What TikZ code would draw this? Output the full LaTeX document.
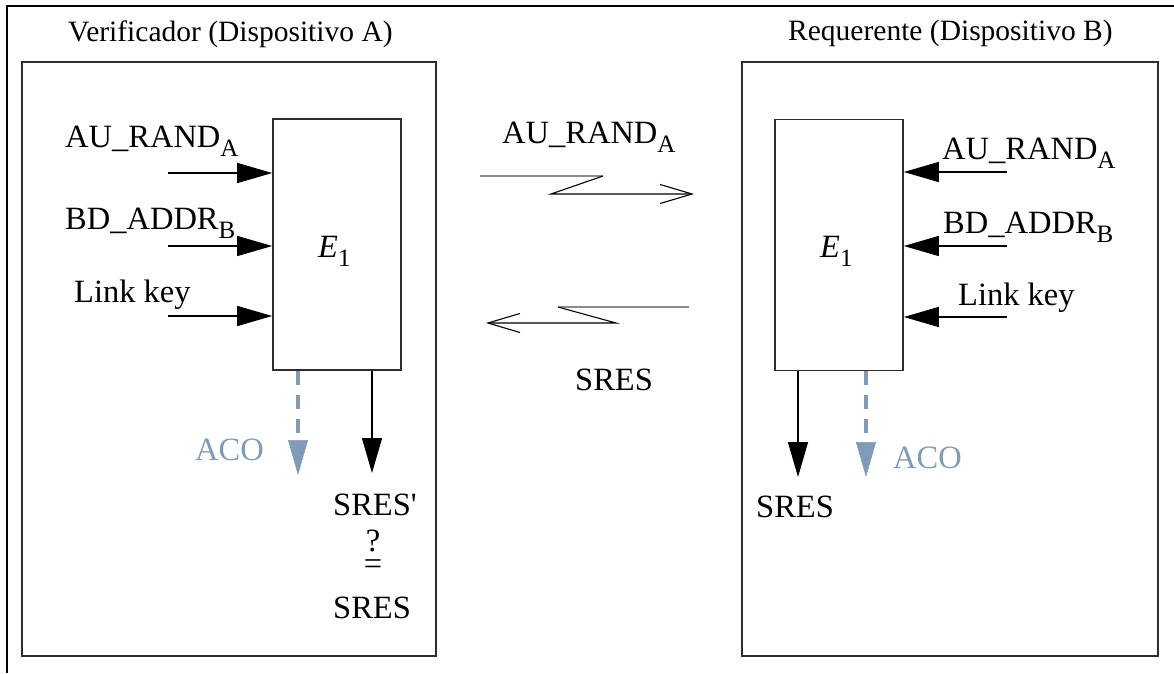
\documentclass[tikz,border=0pt]{standalone}
\usepackage{fontspec}
\setmainfont{Liberation Serif}
\usetikzlibrary{arrows.meta}
\definecolor{acoblue}{RGB}{128,155,185}
\definecolor{boxline}{RGB}{45,45,45}
\newcommand{\lblfont}{\fontsize{32.5}{39}\selectfont}
\newcommand{\ttlfont}{\fontsize{29.5}{35}\selectfont}
\newcommand{\dn}[1]{\raisebox{-0.3em}{\fontsize{25}{30}\selectfont #1}}
% question mark set above an equals sign
\newcommand{\qeqsign}{{\setbox0\hbox{=}\rlap{\hbox to \wd0{\hss\raisebox{0.68em}{?}\hss}}\box0}}
\begin{document}
\begin{tikzpicture}[x=1pt,y=-1pt,
  frame/.style={draw=boxline, line width=1.8pt},
  ebox/.style={draw=boxline, line width=1.6pt, minimum width=128pt, minimum height=251pt, inner sep=0},
  txt/.style={anchor=base west, inner sep=0, font=\lblfont},
  ttl/.style={anchor=base west, inner sep=0, font=\ttlfont},
  inarrow/.style={line width=1.3pt, -{Triangle[length=35pt,width=20pt]}},
  outarrow/.style={line width=1.3pt, -{Triangle[length=35pt,width=20pt]}},
  acoarrow/.style={draw=acoblue, line width=3.2pt, dash pattern=on 14pt off 10pt,
    -{Triangle[length=35pt,width=20pt,fill=acoblue,line width=0.5pt,sep=0pt]}},
  wiregray/.style={draw=black!45, line width=1.4pt},
  barb/.style={line width=1.1pt, -{Straight Barb[length=32pt,width=19pt,line width=1.1pt]}}
]
\useasboundingbox (0,0) rectangle (1174,673);

% page frame (left and top edges)
\draw[line width=2pt] (7,673) -- (7,6) -- (1174,6);

% device frames
\draw[frame] (22,62) rectangle (436,656);
\draw[frame] (742,62) rectangle (1158,656);

% titles
\node[ttl] (tA) at (68,41) {Verificador (Dispositivo A)};
\node[ttl] (tB) at (788,40) {Requerente (Dispositivo B)};

% E1 blocks
\node[ebox] (eA) at (337,244.5) {};
\node[ebox] (eB) at (839,245) {};
\node[txt] (eAl) at (318,257) {{\itshape E}\dn{1}};
\node[txt] (eBl) at (820,257) {{\itshape E}\dn{1}};

% inputs of device A
\node[txt] (la1) at (65,147) {AU\_RAND\dn{A}};
\node[txt] (la2) at (65,229) {BD\_ADDR\dn{B}};
\node[txt] (la3) at (74,302) {Link key};
\coordinate (ia1) at (168,173);
\coordinate (ia2) at (168,246);
\coordinate (ia3) at (168,316);
\draw[inarrow] (ia1) -- (ia1 -| eA.west);
\draw[inarrow] (ia2) -- (ia2 -| eA.west);
\draw[inarrow] (ia3) -- (ia3 -| eA.west);

% inputs of device B
\node[txt] (lb1) at (942,159) {AU\_RAND\dn{A}};
\node[txt] (lb2) at (943,233) {BD\_ADDR\dn{B}};
\node[txt] (lb3) at (958,305) {Link key};
\coordinate (ib1) at (1007,172);
\coordinate (ib2) at (1007,246);
\coordinate (ib3) at (1007,317);
\draw[inarrow] (ib1) -- (ib1 -| eB.east);
\draw[inarrow] (ib2) -- (ib2 -| eB.east);
\draw[inarrow] (ib3) -- (ib3 -| eB.east);

% outputs of device A
\coordinate (oa1) at (298,475);
\coordinate (oa2) at (372,473);
\draw[acoarrow] (oa1 |- eA.south) -- (oa1);
\draw[outarrow] (oa2 |- eA.south) -- (oa2);
\node[txt, text=acoblue] (acoA) at (195,460) {ACO};
\node[txt] (sresA1) at (333,515) {SRES\textquotesingle};
\node[anchor=base, inner sep=0, font=\lblfont] (qeq) at (373,574) {\qeqsign};
\node[txt] (sresA2) at (333,618) {SRES};

% outputs of device B
\coordinate (ob1) at (798,477);
\coordinate (ob2) at (866,477);
\draw[outarrow] (ob1 |- eB.south) -- (ob1);
\draw[acoarrow] (ob2 |- eB.south) -- (ob2);
\node[txt, text=acoblue] (acoB) at (893,468) {ACO};
\node[txt] (sresB) at (756,517) {SRES};

% radio link A -> B
\node[txt] (lm1) at (502,143) {AU\_RAND\dn{A}};
\coordinate (r1a) at (480,176);
\coordinate (r1b) at (603,176);
\coordinate (r1c) at (551,194);
\coordinate (r1d) at (694,194);
\draw[wiregray] (r1a) -- (r1b);
\draw[barb] (r1b) -- (r1c) -- (r1d);

% radio link B -> A
\coordinate (r2a) at (689,307);
\coordinate (r2b) at (558,307);
\coordinate (r2c) at (616,323);
\coordinate (r2d) at (486,323);
\draw[wiregray] (r2a) -- (r2b);
\draw[barb] (r2b) -- (r2c) -- (r2d);
\node[txt] (lm2) at (575,390) {SRES};
\end{tikzpicture}
\end{document}
